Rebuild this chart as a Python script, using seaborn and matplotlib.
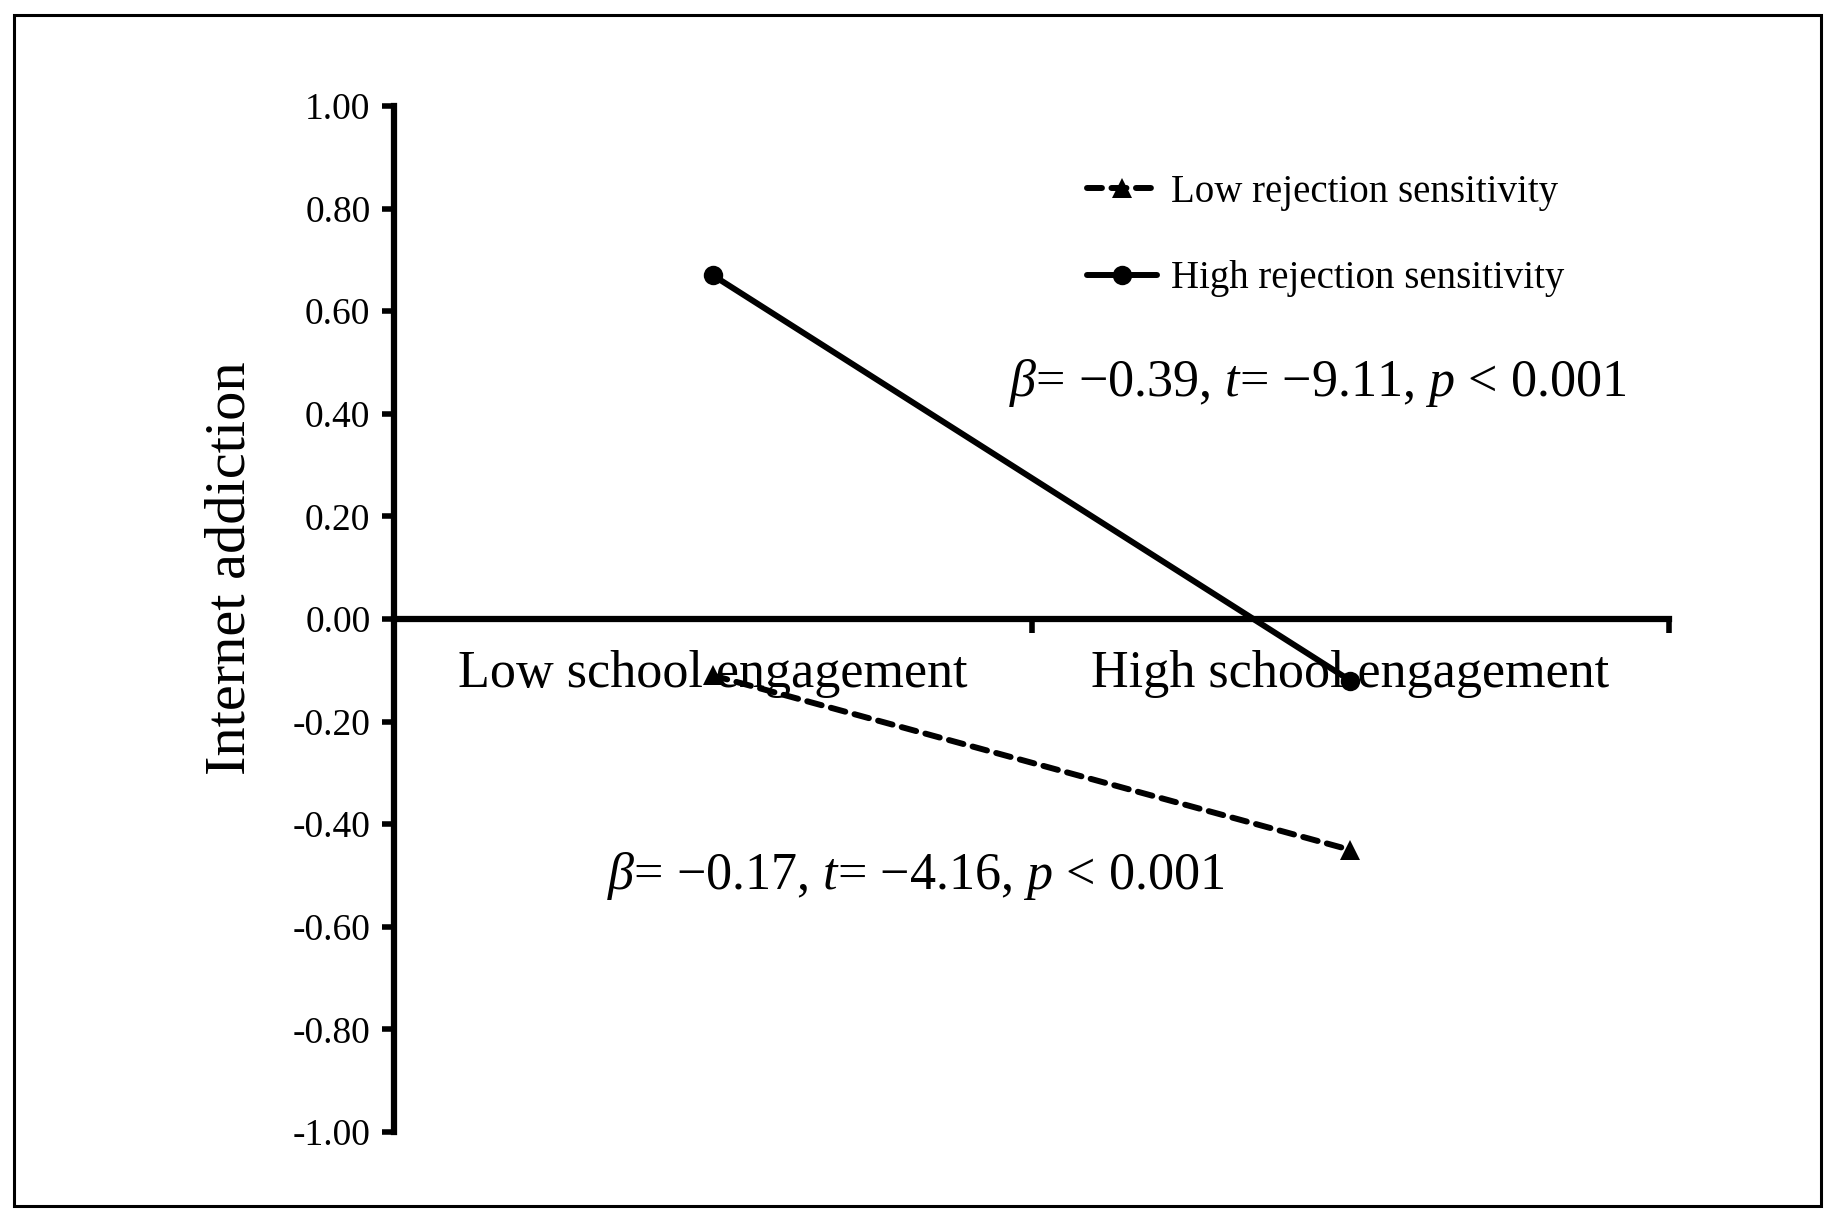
import matplotlib
matplotlib.use("Agg")
import matplotlib.pyplot as plt
import seaborn as sns
import pandas as pd
from matplotlib.patches import Rectangle

# ---- data ----
categories = ["Low school engagement", "High school engagement"]
groups = ["Low rejection sensitivity", "High rejection sensitivity"]
low_rs_values = [-0.11, -0.45]
high_rs_values = [0.67, -0.12]
y_ticks = [1.00, 0.80, 0.60, 0.40, 0.20, 0.00, -0.20, -0.40, -0.60, -0.80, -1.00]
annot_high = r"$\beta$= −0.39, $t$= −9.11, $p$ < 0.001"
annot_low = r"$\beta$= −0.17, $t$= −4.16, $p$ < 0.001"

df = pd.DataFrame({
    "engagement": categories * 2,
    "addiction": low_rs_values + high_rs_values,
    "group": [groups[0]] * 2 + [groups[1]] * 2,
})

sns.set_theme(style="white")
plt.rcParams["font.family"] = ["Liberation Serif", "DejaVu Serif"]
plt.rcParams["mathtext.fontset"] = "custom"
plt.rcParams["mathtext.rm"] = "Liberation Serif"
plt.rcParams["mathtext.it"] = "Liberation Serif:italic"
plt.rcParams["axes.unicode_minus"] = False
for k in ["text.color", "axes.labelcolor", "xtick.color", "ytick.color"]:
    plt.rcParams[k] = "black"

fig = plt.figure(figsize=(18.43, 12.22), dpi=100)
ax = fig.add_axes([0.2138, 0.0736, 0.6918, 0.8397])

sns.lineplot(
    data=df, x="engagement", y="addiction", hue="group", style="group",
    hue_order=groups, style_order=groups,
    palette=["black", "black"],
    dashes={groups[0]: (2.5, 1.6), groups[1]: ""},
    markers={groups[0]: "^", groups[1]: "o"},
    markersize=14, linewidth=4.3, markeredgewidth=0,
    sort=False, ax=ax,
)
for ln in ax.get_lines():
    ln.set_dash_capstyle("round")

ax.set_xlim(-0.5, 1.5)
ax.set_ylim(-1.0, 1.0)

# spines
for s in ["top", "right"]:
    ax.spines[s].set_visible(False)
ax.spines["bottom"].set_position(("data", 0))
for s in ["left", "bottom"]:
    ax.spines[s].set_linewidth(4.5)
    ax.spines[s].set_color("black")
    ax.spines[s].set_capstyle("projecting")

# y ticks
ax.set_yticks(y_ticks)
ax.set_yticklabels([f"{v:.2f}" for v in y_ticks])
ax.tick_params(axis="y", which="major", direction="out", length=9, width=4,
               color="black", labelcolor="black", labelsize=27, pad=8, left=True)

# x ticks: boundaries (minor) and category labels (major)
ax.set_xticks([0, 1])
ax.set_xticklabels(categories)
ax.tick_params(axis="x", which="major", length=0, labelsize=37.5, pad=22,
               labelcolor="black", bottom=True)
ax.set_xticks([-0.5, 0.5, 1.5], minor=True)
ax.tick_params(axis="x", which="minor", direction="out", length=10, width=4,
               color="black", bottom=True)

ax.set_xlabel("")
ax.set_ylabel("Internet addiction", fontsize=42, color="black")
ax.yaxis.set_label_coords(-0.108, 0.55)

# annotations
ax.text(0.949, 0.46, annot_high, fontsize=37.5, ha="center", va="center",
        color="black")
ax.text(0.318, -0.50, annot_low, fontsize=37.5, ha="center", va="center",
        color="black")

# legend
handles, labels = ax.get_legend_handles_labels()
leg = ax.legend(handles, labels, loc="upper left", bbox_to_anchor=(0.590, 0.858),
                bbox_transform=fig.transFigure, frameon=False, fontsize=28,
                handlelength=1.8, handletextpad=0.35, labelspacing=1.28,
                borderpad=0, borderaxespad=0)
for t in leg.get_texts():
    t.set_color("black")

# outer frame
fig.patches.append(Rectangle((0.0076, 0.0131), 0.9805, 0.9746,
                             transform=fig.transFigure, fill=False,
                             edgecolor="black", linewidth=2.2))

fig.savefig("out.png", dpi=100)
